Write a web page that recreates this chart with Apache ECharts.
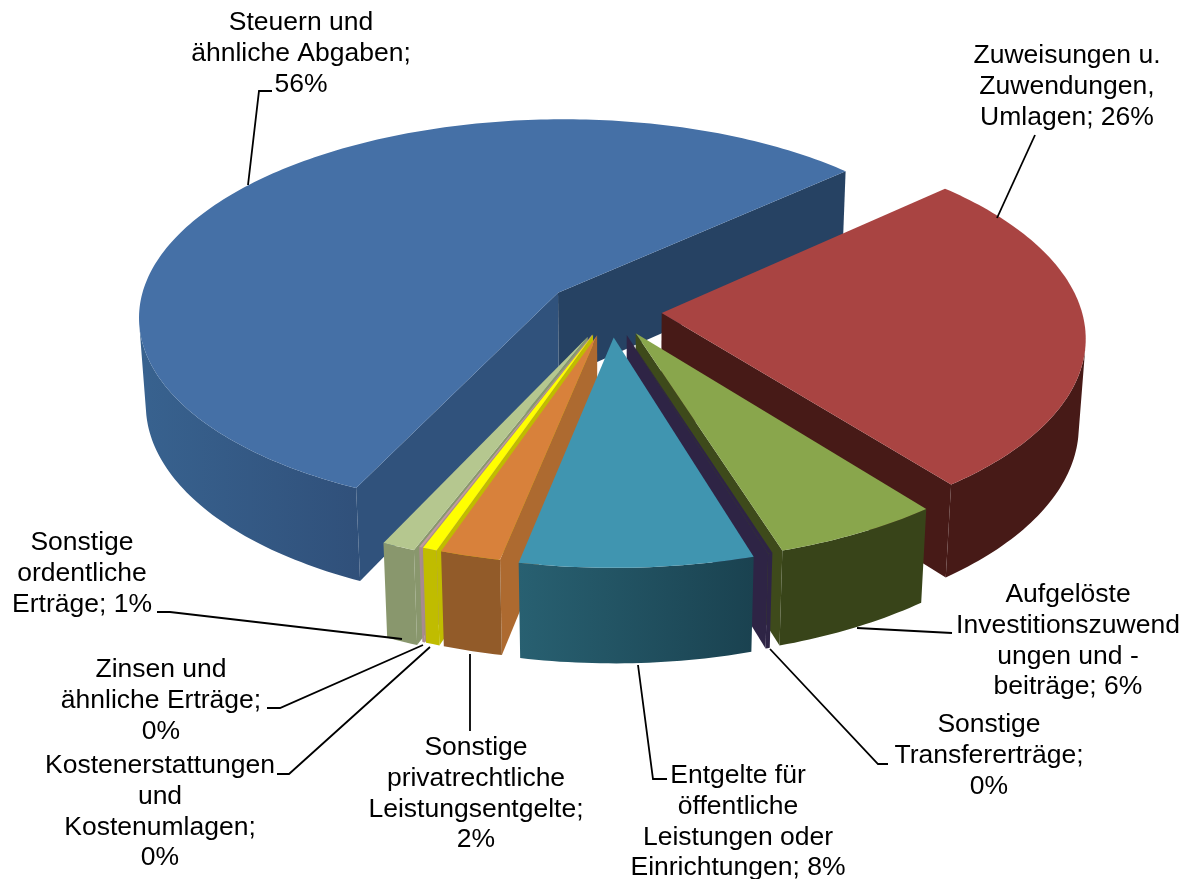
<!DOCTYPE html>
<html>
<head>
<meta charset="utf-8">
<title>Erträge</title>
<style>html,body{margin:0;padding:0;background:#fff}#main{width:1188px;height:879px}</style>
<script src="https://cdn.jsdelivr.net/npm/echarts@6/dist/echarts.min.js"></script>
</head>
<body>
<div id="main"></div>
<script>
// Werte, im Uhrzeigersinn ab dem Steuern-Segment
var categories = ['Steuern und\nähnliche Abgaben', 'Zuweisungen u.\nZuwendungen,\nUmlagen', 'Aufgelöste\nInvestitionszuwend\nungen und -\nbeiträge',
  'Sonstige\nTransfererträge', 'Entgelte für\nöffentliche\nLeistungen oder\nEinrichtungen', 'Sonstige\nprivatrechtliche\nLeistungsentgelte',
  'Kostenerstattungen\nund\nKostenumlagen', 'Zinsen und\nähnliche Erträge', 'Sonstige\nordentliche\nErträge'];
var values = [56.2, 26.3, 5.69, 0.15, 7.87, 2.05, 0.49, 0.1, 1.13];
var separators = ';\n|; |; |;\n|; |;\n|;\n|;\n|; '.split('|');

// Farben
var topColors = ['#4570a6', '#a94442', '#89a64c', '#2e2445', '#4095b0', '#d8813b', '#ffff00', '#c09a9f', '#b5c78f'];
var wallLeft = ['#38628f', '#471a17', '#384419', '#2e2445', '#286071', '#925b29', '#c0bc00', '#a98a8f', '#89976d'];
var wallRight = ['#30507a', '#471a17', '#384419', '#2e2445', '#1a4250', '#925b29', '#c0bc00', '#a98a8f', '#89976d'];
var cutStart = ['#30527c', '#471a17', '#3e4a1b', '#2e2445', '#286071', '#ad6a30', '#c0bc00', '#a98a8f', '#89976d'];
var cutEnd = ['#264263', '#471a17', '#3e4a1b', '#2e2445', '#286071', '#ad6a30', '#c0bc00', '#a98a8f', '#89976d'];
var explodes = [0.158, 0.121, 0.125, 0.125, 0.132, 0.125, 0.125, 0.125, 0.14];
var drawOrder = [0, 1, 2, 8, 7, 6, 5, 3, 4];

// Beschriftung: Mitte x, y der ersten Zeile, Führungslinie
var labelX = [301, 1067, 1068, 989, 738, 476, 160, 161, 82];
var labelY = [23, 56, 595, 725, 776, 748, 766, 670, 543];
var leaders = [
  [[272, 91], [259, 91], [248, 185]],
  [[1035, 135], [997, 218]],
  [[952, 633], [933, 632], [857, 628]],
  [[888, 764], [878, 764], [770, 649]],
  [[667, 779], [653, 779], [638, 665]],
  [[470, 731], [470, 654]],
  [[277, 774], [289, 774], [430, 647]],
  [[267, 708], [280, 708], [423, 645]],
  [[157, 612], [170, 612], [402, 639]]
];

// Projektion
var cx = 611, cy = 311, f = 420, sn = 0.47, cs = Math.sqrt(1 - sn * sn), k = 0.115;
var thick = 0.238, startDeg = 205;
var camDist = cs / k;
var rad = Math.PI / 180;

function project(x, y, z) {
  var d = 1 + k * y - (sn * k / cs) * z;
  return [cx + f * x / d, cy - f * (y * sn + z * cs) / d];
}
function facing(nx, ny, px, py) {
  return nx * (0 - px) + ny * (-camDist * cs - py) > 0;
}

var total = values.reduce(function (a, b) { return a + b; }, 0);

function renderSlice(params, api) {
  var idx = api.value(1);
  var before = 0;
  for (var i = 0; i < idx; i++) before += values[i];
  var a0 = startDeg + before / total * 360;
  var a1 = a0 + api.value(0) / total * 360;
  var mid = (a0 + a1) / 2 * rad;
  var ox = explodes[idx] * Math.sin(mid), oy = explodes[idx] * Math.cos(mid);
  var steps = Math.max(2, Math.ceil(a1 - a0));
  var angles = [], j;
  for (j = 0; j <= steps; j++) angles.push((a0 + (a1 - a0) * j / steps) * rad);
  var pt = function (t, z) { return project(ox + Math.sin(t), oy + Math.cos(t), z); };
  var children = [];
  var poly = function (points, fill) {
    children.push({ type: 'polygon', shape: { points: points }, style: { fill: fill, stroke: null } });
  };
  var first = angles[0], last = angles[steps];
  var apexT = project(ox, oy, 0), apexB = project(ox, oy, -thick);
  // Schnittflächen
  if (facing(Math.sin(first - Math.PI / 2), Math.cos(first - Math.PI / 2), ox, oy)) {
    poly([apexT, pt(first, 0), pt(first, -thick), apexB], cutStart[idx]);
  }
  if (facing(Math.sin(last + Math.PI / 2), Math.cos(last + Math.PI / 2), ox, oy)) {
    poly([apexT, pt(last, 0), pt(last, -thick), apexB], cutEnd[idx]);
  }
  // Außenwand
  var run = [];
  var flush = function () {
    if (run.length > 1) {
      var up = run.map(function (t) { return pt(t, 0); });
      var down = run.map(function (t) { return pt(t, -thick); }).reverse();
      poly(up.concat(down), new echarts.graphic.LinearGradient(0, 0, 1, 0, [
        { offset: 0, color: wallLeft[idx] }, { offset: 1, color: wallRight[idx] }
      ]));
    }
    run = [];
  };
  for (j = 0; j <= steps; j++) {
    var t = angles[j];
    if (facing(Math.sin(t), Math.cos(t), ox + Math.sin(t), oy + Math.cos(t))) run.push(t);
    else flush();
  }
  flush();
  // Deckfläche
  poly([apexT].concat(angles.map(function (t) { return pt(t, 0); })), topColors[idx]);
  return { type: 'group', children: children };
}

var graphics = [];
leaders.forEach(function (pts) {
  graphics.push({ type: 'polyline', silent: true, z: 10, shape: { points: pts }, style: { stroke: '#000', lineWidth: 1.8, fill: null } });
});
categories.forEach(function (name, i) {
  graphics.push({
    type: 'text', silent: true, z: 11, x: labelX[i], y: labelY[i] - 15.3,
    style: {
      text: name + separators[i] + Math.round(values[i] / total * 100) + '%',
      fill: '#000', font: '26.5px "Liberation Sans", Arial, sans-serif', lineHeight: 30.6,
      textAlign: 'center', textVerticalAlign: 'top'
    }
  });
});

var myChart = echarts.init(document.getElementById('main'));
myChart.setOption({
  backgroundColor: '#fff',
  animation: false,
  graphic: graphics,
  series: [{
    type: 'custom',
    coordinateSystem: 'none',
    silent: true,
    renderItem: renderSlice,
    data: drawOrder.map(function (i) { return [values[i], i]; })
  }]
});
</script>
</body>
</html>
